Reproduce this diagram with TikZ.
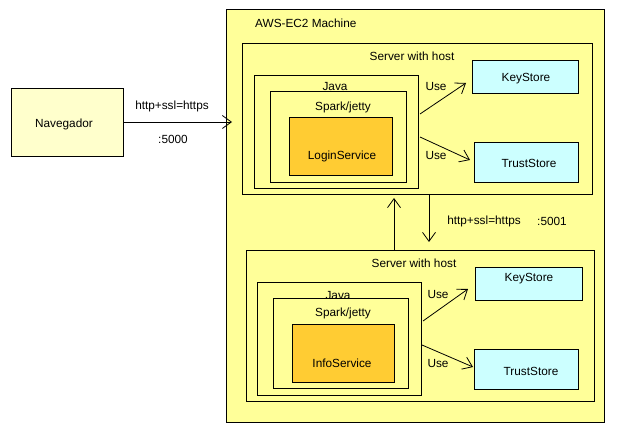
\documentclass[tikz,border=0pt]{standalone}
\usepackage{fontspec}
\setmainfont{Liberation Sans}
\usetikzlibrary{arrows.meta,calc}
\definecolor{ylw}{HTML}{FFFF99}
\definecolor{pale}{HTML}{FFFFCC}
\definecolor{org}{HTML}{FFCC33}
\definecolor{cyn}{HTML}{CCFFFF}
\begin{document}
\begin{tikzpicture}[x=1pt,y=-1pt,
 box/.style={draw, line width=0.8pt, anchor=north west, inner sep=0pt, outer sep=0pt},
 lbl/.style={font=\fontsize{11.8}{13}\selectfont, inner sep=0pt},
 arr/.style={-{Straight Barb[length=9pt,width=13pt]}, line width=0.8pt}]
\useasboundingbox (0,0) rectangle (620,435);
% browser
\node[box, fill=pale, minimum width=112, minimum height=68] (nav) at (11,88) {};
\node[lbl] (tnav) at (64,124) {Navegador};
% outer machine
\node[box, fill=ylw, minimum width=378, minimum height=413] (aws) at (226,9) {};
\node[lbl, anchor=west] (taws) at (255,23) {AWS-EC2 Machine};
% server 1
\node[box, fill=ylw, minimum width=350, minimum height=151] (s1) at (242,43) {};
\node[lbl] (ts1) at (412,56) {Server with host};
\node[box, fill=ylw, minimum width=164, minimum height=113] (j1) at (254,75) {};
\node[lbl] (tj1) at (335,87) {Java};
\node[box, fill=ylw, minimum width=136, minimum height=91] (p1) at (270,91) {};
\node[lbl] (tp1) at (343,107) {Spark/jetty};
\node[box, fill=org, minimum width=103, minimum height=58] (l1) at (289,117) {};
\node[lbl] (tl1) at (342,156) {LoginService};
\node[box, fill=cyn, minimum width=106, minimum height=33] (k1) at (472,60) {};
\node[lbl] (tk1) at (526,79) {KeyStore};
\node[box, fill=cyn, minimum width=104, minimum height=40] (r1) at (474,142) {};
\node[lbl] (tr1) at (529,163) {TrustStore};
% server 2
\node[box, fill=ylw, minimum width=348, minimum height=151] (s2) at (246,250) {};
\node[lbl] (ts2) at (414,263) {Server with host};
\node[box, fill=ylw, minimum width=164, minimum height=113] (j2) at (257,282) {};
\node[lbl] (tj2) at (338,295) {Java};
\node[box, fill=ylw, minimum width=135, minimum height=90] (p2) at (273,298) {};
\node[lbl] (tp2) at (343,313) {Spark/jetty};
\node[box, fill=org, minimum width=102, minimum height=58] (l2) at (292,324) {};
\node[lbl] (tl2) at (342,363) {InfoService};
\node[box, fill=cyn, minimum width=107, minimum height=33] (k2) at (475,267) {};
\node[lbl] (tk2) at (529,279) {KeyStore};
\node[box, fill=cyn, minimum width=104, minimum height=40] (r2) at (474,349) {};
\node[lbl] (tr2) at (531,371) {TrustStore};
% connectors
\draw[arr] (nav.east) -- ($(nav.east -| aws.west)+(6,0)$);
\node[lbl] (h1) at (172,106) {http+ssl=https};
\node[lbl] (h2) at (173,139) {:5000};
\coordinate (xu) at (394,0);
\coordinate (xd) at (429,0);
\draw[arr] (s2.north -| xu) -- ($(s1.south -| xu)+(0,4)$);
\draw[arr] (s1.south -| xd) -- ($(s2.north -| xd)+(0,-8)$);
\node[lbl] (h3) at (484,221) {http+ssl=https};
\node[lbl] (h4) at (552,221) {:5001};
% use arrows server 1
\coordinate (a1s) at (420,114);
\coordinate (a1e) at (466,83);
\coordinate (a2s) at (420,137);
\coordinate (a2e) at (470,160);
\draw[arr] (a1s) -- (a1e);
\draw[arr] (a2s) -- (a2e);
\node[lbl] (u1) at (436,87) {Use};
\node[lbl] (u2) at (436,156) {Use};
% use arrows server 2
\coordinate (b1s) at (423,321);
\coordinate (b1e) at (468,289);
\coordinate (b2s) at (422,345);
\coordinate (b2e) at (473,367);
\draw[arr] (b1s) -- (b1e);
\draw[arr] (b2s) -- (b2e);
\node[lbl] (u3) at (438,294) {Use};
\node[lbl] (u4) at (438,363) {Use};
\end{tikzpicture}
\end{document}
